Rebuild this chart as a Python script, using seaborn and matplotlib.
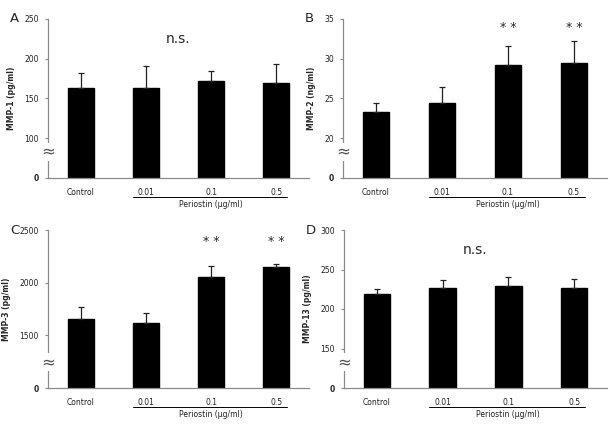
import numpy as np
import pandas as pd
import matplotlib
matplotlib.use("Agg")
import matplotlib.pyplot as plt
import seaborn as sns

sns.set_theme(style="white")
plt.rcParams['font.family'] = ['DejaVu Sans']

groups = ["Control", "0.01", "0.1", "0.5"]

mmp1_mean = [163, 163, 172.5, 169.5]
mmp1_err = [19.5, 27.5, 11.5, 23.5]
mmp2_mean = [23.3, 24.4, 29.2, 29.45]
mmp2_err = [1.1, 2.0, 2.4, 2.75]
mmp3_mean = [1655, 1617, 2057, 2149]
mmp3_err = [115, 95, 105, 28]
mmp13_mean = [219.5, 226.2, 229.5, 227]
mmp13_err = [6.2, 10.0, 10.5, 11.0]

panels = [
    dict(letter="A", ylabel="MMP-1 (pg/ml)", mean=mmp1_mean, err=mmp1_err,
         ticks=[0, 100, 150, 200, 250], brk=100, step=50, top=250, note="n.s.",
         rect=[48/610, 1-178/429, 261/610, 159/429]),
    dict(letter="B", ylabel="MMP-2 (ng/ml)", mean=mmp2_mean, err=mmp2_err,
         ticks=[0, 20, 25, 30, 35], brk=20, step=5, top=35, note="**",
         rect=[343/610, 1-178/429, 264/610, 159/429]),
    dict(letter="C", ylabel="MMP-3 (pg/ml)", mean=mmp3_mean, err=mmp3_err,
         ticks=[0, 1500, 2000, 2500], brk=1500, step=500, top=2500, note="**",
         rect=[48/610, 1-388/429, 261/610, 158/429]),
    dict(letter="D", ylabel="MMP-13 (pg/ml)", mean=mmp13_mean, err=mmp13_err,
         ticks=[0, 150, 200, 250, 300], brk=150, step=50, top=300, note="n.s.",
         rect=[344/610, 1-388/429, 263/610, 158/429]),
]

fig = plt.figure(figsize=(6.1, 4.29), dpi=100)
gray = "#8a8a8a"

for p in panels:
    ax = fig.add_axes(p["rect"])
    df = pd.DataFrame({"group": groups, "value": p["mean"]})
    sns.barplot(data=df, x="group", y="value", color="black", width=0.4,
                saturation=1, ax=ax, errorbar=None, edgecolor="black")
    b, s = p["brk"], p["step"]

    def fwd(v, b=b, s=s):
        v = np.asarray(v, dtype=float)
        return np.where(v <= b, v * s / b, v - b + s)

    def inv(u, b=b, s=s):
        u = np.asarray(u, dtype=float)
        return np.where(u <= s, u * b / s, u + b - s)

    ax.set_yscale("function", functions=(fwd, inv))
    x = np.arange(len(groups))
    eb = ax.errorbar(x, p["mean"], yerr=[np.zeros(len(groups)), p["err"]],
                     fmt="none", ecolor="#222222", elinewidth=0.9, capsize=2.5,
                     capthick=0.9)
    for cl in eb[1]:
        cl.set_color("#777777")
    ax.set_ylim(0, p["top"])
    ax.set_xlim(-0.5, 3.5)
    ax.set_yticks(p["ticks"])
    ax.set_yticklabels([str(t) for t in p["ticks"]], fontsize=5.5, color="#222222")
    ax.get_yticklabels()[0].set_fontweight("bold")
    ax.set_xticks(x)
    ax.set_xticklabels(groups, fontsize=5.5, color="#222222")
    ax.tick_params(axis="x", length=0, pad=7)
    ax.tick_params(axis="y", length=2.5, width=0.8, color=gray, pad=4, left=True,
                   direction="out")
    for sp in ["top", "right"]:
        ax.spines[sp].set_visible(False)
    for sp in ["left", "bottom"]:
        ax.spines[sp].set_color(gray)
        ax.spines[sp].set_linewidth(0.9)
    ax.set_xlabel("")
    ax.set_ylabel(p["ylabel"], fontsize=5.5, fontweight="bold", labelpad=6)

    # axis break mark
    ax.text(0, 0.165, "≈", transform=ax.transAxes, ha="center", va="center",
            fontsize=12, color="#555555", rotation=0,
            bbox=dict(facecolor="white", edgecolor="none", pad=0.1))

    # group line and label
    ax.plot([0.8, 3.17], [-0.12, -0.12], color="black", lw=0.7,
            transform=ax.get_xaxis_transform(), clip_on=False)
    ax.text(2.0, -0.168, "Periostin (μg/ml)", transform=ax.get_xaxis_transform(),
            ha="center", va="center", fontsize=5.5, color="#222222")

    # panel letter
    ax.text(-38/261, 1.0, p["letter"], transform=ax.transAxes, ha="left",
            va="center", fontsize=9.5)

    if p["note"] == "n.s.":
        ax.text(1.5, 0.875, "n.s.", transform=ax.get_xaxis_transform(),
                ha="center", va="center", fontsize=10)
    else:
        yy = 0.945 if p["letter"] == "B" else 0.925
        for xi in [2, 3]:
            ax.text(xi, yy, "* *", transform=ax.get_xaxis_transform(),
                    ha="center", va="center", fontsize=9)

fig.savefig("out.png", dpi=100, facecolor="white")
